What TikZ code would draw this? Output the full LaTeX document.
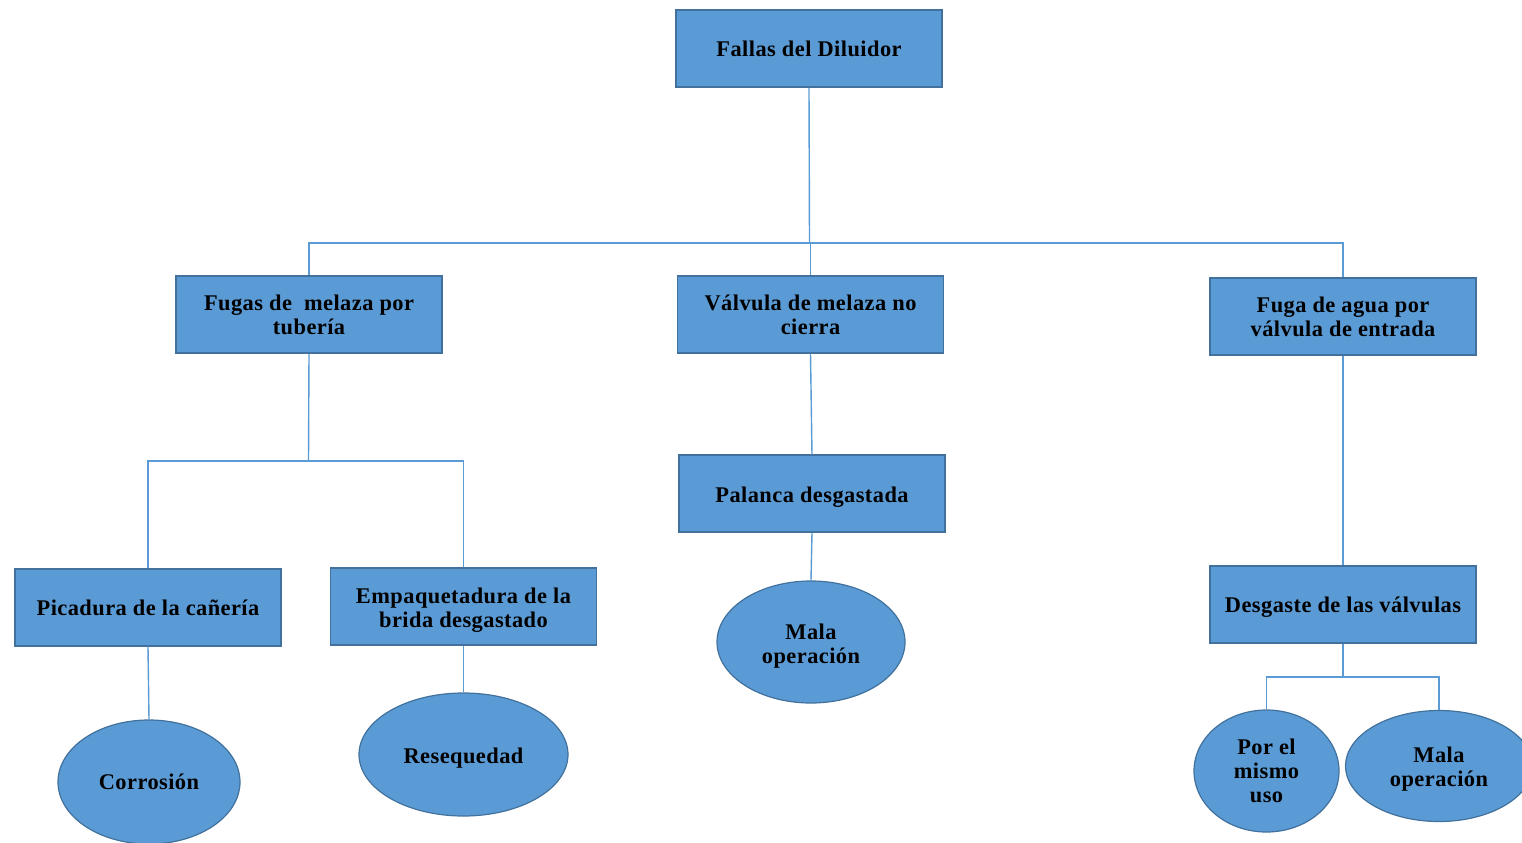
\documentclass[tikz,border=0pt]{standalone}
\usepackage{fontspec}
\setmainfont{Liberation Serif}[LetterSpace=2]
\usetikzlibrary{shapes.geometric}
\definecolor{boxfill}{HTML}{5B9BD5}
\definecolor{boxline}{HTML}{41719C}
\definecolor{linkcol}{HTML}{5B9BD5}
% first-line strut: pushes a label a little lower inside its shape
\newcommand\firststrut[1]{\rule{0pt}{#1}}
\tikzset{
  box/.style={draw=boxline, fill=boxfill, line width=0.6pt, minimum width=133pt,
    minimum height=38.5pt, inner sep=2pt, align=center,
    font=\fontsize{11.2}{12}\selectfont\bfseries},
  oval/.style={draw=boxline, fill=boxfill, line width=0.6pt, ellipse, inner sep=0pt,
    align=center, font=\fontsize{11.2}{12}\selectfont\bfseries},
  link/.style={draw=linkcol, line width=0.7pt}
}
\begin{document}
\begin{tikzpicture}[x=0.5pt,y=-0.5pt]
\useasboundingbox (0,0) rectangle (1522,842);
\clip (0,0) rectangle (1522,842);

% rectangles
\node[box] (top) at (809,48.5) {Fallas del Diluidor};
\node[box] (fugas) at (309,314.5) {Fugas de \ melaza por\\tubería};
\node[box] (valv) at (810.5,314.5) {Válvula de melaza no\\cierra};
\node[box] (agua) at (1343,316.5) {Fuga de agua por\\válvula de entrada};
\node[box] (palanca) at (812,493.5) {\firststrut{11.6pt}Palanca desgastada};
\node[box] (picad) at (148,607.5) {Picadura de la cañería};
\node[box] (empaq) at (463.5,606.5) {\firststrut{11.6pt}Empaquetadura de la\\brida desgastado};
\node[box] (desg) at (1343,604.5) {\firststrut{10.6pt}Desgaste de las válvulas};

% ellipses
\node[oval, minimum width=94pt, minimum height=61pt] (mala1) at (811,642) {\firststrut{11.6pt}Mala\\operación};
\node[oval, minimum width=91pt, minimum height=62pt] (corr) at (149,782) {Corrosión};
\node[oval, minimum width=104.5pt, minimum height=61.5pt] (reseq) at (463.5,754.5) {\firststrut{11.6pt}Resequedad};
\node[oval, minimum width=72.5pt, minimum height=61pt] (uso) at (1266.5,771) {Por el\\mismo\\uso};
\node[oval, minimum width=93.5pt, minimum height=55.5pt] (mala2) at (1439,766) {\firststrut{10.6pt}Mala\\operación};

% junction points
\coordinate (j1) at (809.5,243);
\coordinate (j2) at (308.5,461);
\coordinate (j3) at (1343,677);

% connectors
\draw[link] (top.south) -- (j1);
\draw[link] (j1) -| (fugas.north);
\draw[link] (j1) -| (valv.north);
\draw[link] (j1) -| (agua.north);
\draw[link] (fugas.south) -- (j2);
\draw[link] (j2) -| (picad.north);
\draw[link] (j2) -| (empaq.north);
\draw[link] (valv.south) -- (palanca.north);
\draw[link] (palanca.south) -- (mala1.north);
\draw[link] (agua.south) -- (desg.north);
\draw[link] (picad.south) -- (corr.north);
\draw[link] (empaq.south) -- (reseq.north);
\draw[link] (desg.south) -- (j3);
\draw[link] (j3) -| (uso.north);
\draw[link] (j3) -| (mala2.north);
\end{tikzpicture}
\end{document}
